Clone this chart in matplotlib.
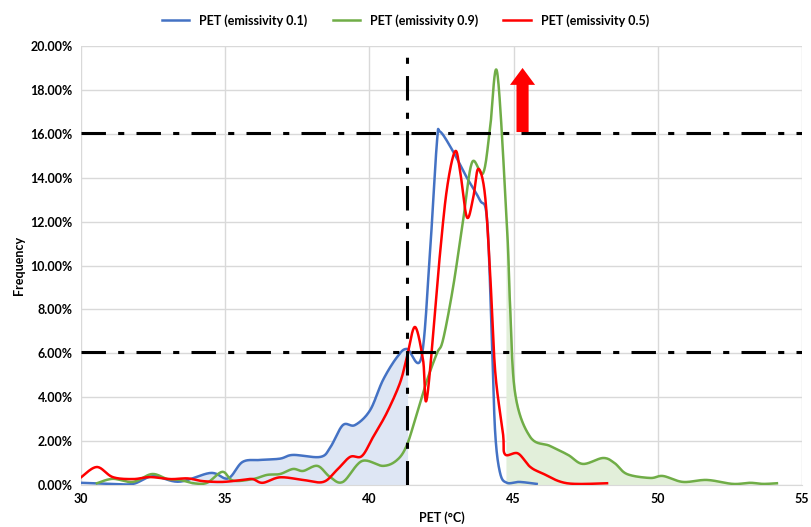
import numpy as np
import matplotlib
matplotlib.use("Agg")
import matplotlib.pyplot as plt
from matplotlib.patches import FancyArrow
from matplotlib.ticker import PercentFormatter

plt.rcParams["font.family"] = ["Lato", "DejaVu Sans"]
plt.rcParams["font.weight"] = "bold"

# PET (deg C) and frequency (%)
blue_x = [30.0, 31.0, 31.8, 32.5, 33.4, 34.5, 35.1, 35.6, 36.2, 36.9, 37.35, 38.3,
          38.65, 39.08, 39.5, 40.02, 40.47, 40.96, 41.3, 41.8, 42.1, 42.34, 42.45,
          42.9, 43.38, 43.83, 44.08, 44.25, 44.36, 44.53, 44.77, 45.2, 45.8]
blue_y = [0.1, 0.05, 0.05, 0.4, 0.15, 0.55, 0.3, 1.05, 1.14, 1.2, 1.37, 1.28,
          1.73, 2.73, 2.73, 3.4, 4.78, 5.83, 6.2, 5.8, 10.6, 15.6, 16.1,
          15.2, 14.0, 12.98, 12.07, 6.5, 2.4, 0.55, 0.1, 0.14, 0.05]

green_x = [30.55, 31.1, 31.8, 32.46, 33.0, 33.43, 33.9, 34.37, 34.9, 35.27, 35.96,
           36.45, 36.9, 37.35, 37.7, 38.2, 38.63, 39.08, 39.74, 40.47, 40.96, 41.3,
           41.65, 42.0, 42.34, 42.55, 42.9, 43.25, 43.56, 43.94, 44.18, 44.43,
           44.77, 44.87, 45.05, 45.57, 46.26, 46.89, 47.4, 48.1, 48.5, 48.93,
           49.73, 50.18, 50.87, 51.7, 52.6, 53.2, 53.65, 54.13]
green_y = [0.08, 0.28, 0.14, 0.5, 0.27, 0.23, 0.08, 0.1, 0.6, 0.2, 0.27,
           0.46, 0.5, 0.73, 0.64, 0.87, 0.37, 0.14, 1.09, 0.87, 1.14, 1.82,
           3.28, 4.78, 6.0, 6.6, 9.0, 12.07, 14.7, 14.2, 16.2, 18.8,
           11.75, 8.4, 4.2, 2.2, 1.78, 1.37, 0.96, 1.23, 1.0, 0.5,
           0.32, 0.41, 0.14, 0.23, 0.05, 0.1, 0.05, 0.08]

red_x = [30.0, 30.55, 31.1, 31.8, 32.4, 33.1, 33.7, 34.2, 34.9, 35.6, 35.95, 36.3,
         36.9, 37.7, 38.4, 38.87, 39.33, 39.74, 40.13, 40.6, 41.06, 41.3, 41.58,
         41.86, 42.0, 42.45, 42.7, 42.97, 43.14, 43.38, 43.6, 43.77, 44.0, 44.18,
         44.36, 44.63, 44.7, 45.15, 45.57, 46.0, 46.85, 48.24]
red_y = [0.35, 0.82, 0.36, 0.27, 0.36, 0.27, 0.3, 0.18, 0.14, 0.23, 0.27, 0.1,
         0.35, 0.23, 0.14, 0.68, 1.28, 1.32, 2.19, 3.28, 4.65, 5.83, 7.2,
         5.7, 4.0, 10.57, 13.6, 15.2, 14.35, 12.2, 13.1, 14.4, 13.3, 9.8,
         5.2, 2.37, 1.4, 1.44, 0.83, 0.53, 0.08, 0.08]

series_names = ["PET (emissivity 0.1)", "PET (emissivity 0.9)", "PET (emissivity 0.5)"]
ref_x = 41.3
ref_levels = [16.05, 6.05]


def smooth(xs, ys, n=20):
    # catmull-rom style smoothing, similar to Excel smoothed lines
    xs = np.asarray(xs, float)
    ys = np.asarray(ys, float)
    px = np.concatenate([[xs[0]], xs, [xs[-1]]])
    py = np.concatenate([[ys[0]], ys, [ys[-1]]])
    out_x, out_y = [], []
    t = np.linspace(0, 1, n, endpoint=False)
    for i in range(1, len(px) - 2):
        x0, x1, x2, x3 = px[i - 1:i + 3]
        y0, y1, y2, y3 = py[i - 1:i + 3]
        cx1 = x1 + (x2 - x0) / 6
        cx2 = x2 - (x3 - x1) / 6
        cy1 = y1 + (y2 - y0) / 6
        cy2 = y2 - (y3 - y1) / 6
        b0 = (1 - t) ** 3
        b1 = 3 * (1 - t) ** 2 * t
        b2 = 3 * (1 - t) * t ** 2
        b3 = t ** 3
        out_x.append(b0 * x1 + b1 * cx1 + b2 * cx2 + b3 * x2)
        out_y.append(b0 * y1 + b1 * cy1 + b2 * cy2 + b3 * y2)
    out_x.append([xs[-1]])
    out_y.append([ys[-1]])
    return np.concatenate(out_x), np.concatenate(out_y)


fig = plt.figure(figsize=(8.11, 5.27), dpi=100)
ax = fig.add_axes([0.0999, 0.0797, 0.889, 0.833])

bx, by = smooth(blue_x, blue_y)
gx, gy = smooth(green_x, green_y)
rx, ry = smooth(red_x, red_y)

# shaded areas
mask_b = (bx >= 33.8) & (bx <= ref_x)
ax.fill_between(bx[mask_b], 0, np.clip(by[mask_b], 0, None), color="#dee6f4", zorder=1)
mask_g = gx >= 44.75
ax.fill_between(gx[mask_g], 0, np.clip(gy[mask_g], 0, None), color="#e2efda", zorder=1)

ax.plot(bx, np.clip(by, 0, None), color="#4472c4", lw=1.8, label=series_names[0], zorder=3)
ax.plot(gx, np.clip(gy, 0, None), color="#70ad47", lw=1.8, label=series_names[1], zorder=3)
ax.plot(rx, np.clip(ry, 0, None), color="#ff0000", lw=1.8, label=series_names[2], zorder=4)

dashdot = (0, (8, 4, 2, 4))
ax.axvline(ref_x, color="black", lw=2.2, linestyle=dashdot, zorder=5)
for lvl in ref_levels:
    ax.axhline(lvl, color="black", lw=2.2, linestyle=dashdot, zorder=5)

ax.add_patch(FancyArrow(45.31, 16.08, 0, 2.92, width=0.42, head_width=0.87,
                        head_length=0.77, length_includes_head=True,
                        color="#ff0000", lw=0, zorder=6))

ax.set_xlim(30, 55)
ax.set_ylim(0, 20)
ax.set_xticks(np.arange(30, 56, 5))
ax.set_yticks(np.arange(0, 20.01, 2))
ax.yaxis.set_major_formatter(PercentFormatter(decimals=2))
ax.grid(True, color="#d9d9d9", lw=1, zorder=0)
ax.set_axisbelow(True)
for s in ["top", "right", "left"]:
    ax.spines[s].set_visible(False)
ax.spines["bottom"].set_color("#d9d9d9")
ax.tick_params(length=0, labelsize=9, pad=6)
for lab in ax.get_xticklabels() + ax.get_yticklabels():
    lab.set_fontweight("bold")

ax.set_xlabel("PET (°C)", fontsize=9, fontweight="bold", labelpad=4)
ax.set_ylabel("Frequency", fontsize=9, fontweight="bold", labelpad=4)

fig.legend(loc="upper center", bbox_to_anchor=(0.5, 0.995), ncol=3, frameon=False,
           handlelength=2.2, columnspacing=2.0, prop={"weight": "bold", "size": 9})

fig.savefig("out.png", dpi=100)
